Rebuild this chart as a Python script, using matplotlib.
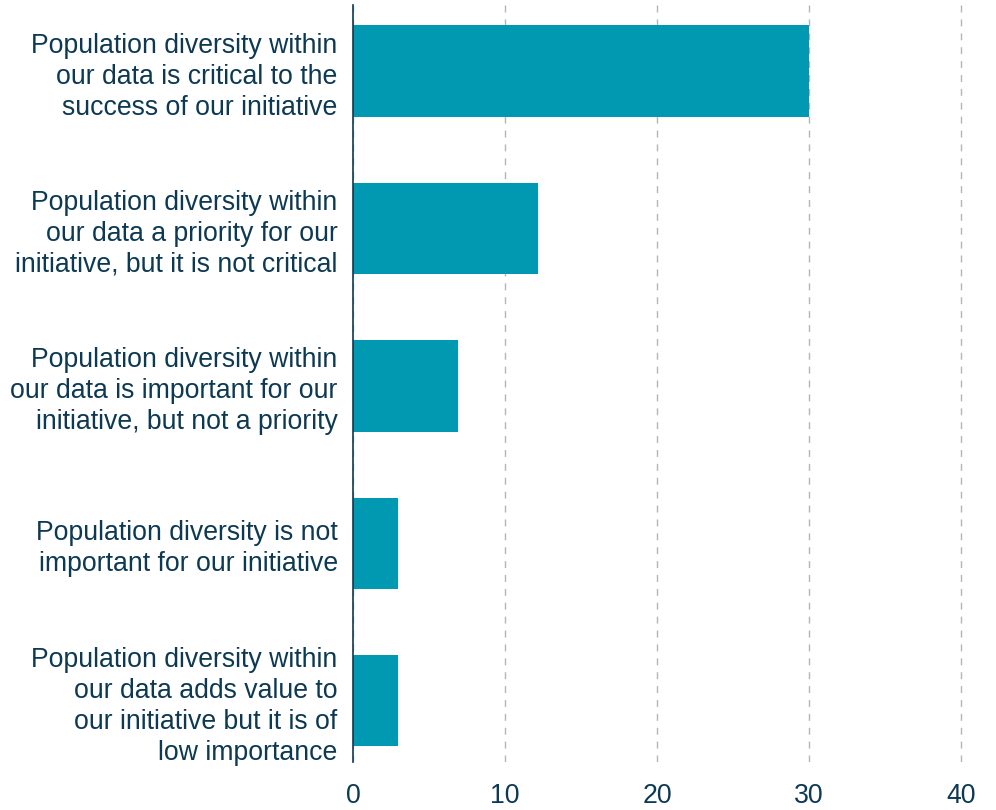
import matplotlib
matplotlib.use("Agg")
import matplotlib.pyplot as plt

categories = [
    "Population diversity within\nour data is critical to the\nsuccess of our initiative",
    "Population diversity within\nour data a priority for our\ninitiative, but it is not critical",
    "Population diversity within\nour data is important for our\ninitiative, but not a priority",
    "Population diversity is not\nimportant for our initiative",
    "Population diversity within\nour data adds value to\nour initiative but it is of\nlow importance",
]
values = [30, 12.2, 6.9, 2.95, 2.95]
xticks = [0, 10, 20, 30, 40]

bar_color = "#0099b1"
text_color = "#0d3a52"

plt.rcParams['font.family'] = ['Liberation Sans', 'DejaVu Sans']

fig = plt.figure(figsize=(9.96, 8.1), dpi=100)
ax = fig.add_axes([353/996, 1 - 762/810, 1 - 353/996, (762 - 5)/810])

ypos = list(range(len(categories)))
ax.barh(ypos, values, height=0.58, color=bar_color, zorder=3)
ax.set_ylim(4.39, -0.42)
ax.set_xlim(0, 42.3)
ax.set_xticks(xticks)
ax.set_xticklabels([str(t) for t in xticks])
ax.set_yticks(ypos)
ax.set_yticklabels(categories, linespacing=1.25)
ax.tick_params(axis='both', length=0, labelsize=19.2, colors=text_color)
ax.tick_params(axis='y', pad=11)
ax.tick_params(axis='x', pad=15)
for lab in ax.get_yticklabels():
    lab.set_horizontalalignment('right')
    lab.set_multialignment('right')

ax.xaxis.grid(True, linestyle=(0, (5, 5)), color="#b0b6bb", linewidth=1, zorder=0)
for s in ['top', 'right', 'bottom']:
    ax.spines[s].set_visible(False)
ax.spines['left'].set_color(text_color)
ax.spines['left'].set_linewidth(1.2)
ax.spines['left'].set_zorder(4)

fig.savefig("out.png", dpi=100)
